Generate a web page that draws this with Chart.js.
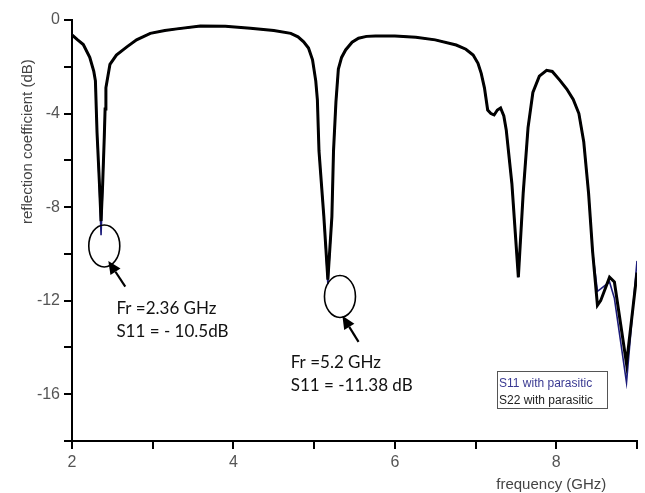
<!DOCTYPE html>
<html>
<head>
<meta charset="utf-8">
<script src="https://cdn.jsdelivr.net/npm/chart.js@4.4.1/dist/chart.umd.min.js"></script>
<style>
  html, body { margin: 0; padding: 0; background: #fff; }
  #contenedor { width: 645px; height: 493px; }
</style>
</head>
<body>
<div id="contenedor"><canvas id="grafico-reflexion"></canvas></div>
<script>
// frecuencias (GHz) y coeficiente de reflexion (dB)
const frecuencia = [
  2.00, 2.07, 2.14, 2.22, 2.27, 2.29, 2.31, 2.34, 2.36, 2.38, 2.40, 2.41, 2.42, 2.47, 2.55,
  2.68, 2.80, 2.97, 3.15, 3.30, 3.59, 3.90, 4.21, 4.50, 4.71, 4.80, 4.87, 4.93, 4.98, 5.02,
  5.04, 5.06, 5.12, 5.17, 5.22, 5.24, 5.27, 5.30, 5.34, 5.39, 5.47, 5.55, 5.65, 5.76, 6.00,
  6.26, 6.50, 6.76, 6.88, 6.97, 7.03, 7.07, 7.11, 7.15, 7.19, 7.23, 7.27, 7.31, 7.35, 7.38,
  7.45, 7.53, 7.59, 7.65, 7.71, 7.79, 7.88, 7.95, 8.04, 8.13, 8.21, 8.28, 8.34, 8.40, 8.45,
  8.51, 8.55, 8.66, 8.72, 8.87, 9.00
];
const s22 = [
  -0.64, -0.85, -1.05, -1.6, -2.2, -2.6, -4.8, -7.0, -8.6, -7.0, -5.0, -3.8, -2.9, -1.9, -1.5,
  -1.15, -0.85, -0.57, -0.45, -0.38, -0.26, -0.27, -0.35, -0.45, -0.57, -0.72, -0.93, -1.2, -1.7, -2.6,
  -3.4, -5.6, -8.4, -11.1, -8.4, -5.6, -3.5, -2.1, -1.6, -1.28, -0.95, -0.78, -0.70, -0.68, -0.68,
  -0.74, -0.85, -1.07, -1.25, -1.5, -1.85, -2.28, -2.9, -3.85, -4.0, -4.06, -3.85, -3.76, -4.1, -4.7,
  -7.0, -11.0, -7.4, -4.6, -3.1, -2.4, -2.15, -2.2, -2.56, -2.95, -3.4, -4.0, -5.2, -7.4, -9.9,
  -12.2, -12.0, -11.0, -11.2, -14.7, -10.8
];
const s11 = [
  -0.64, -0.85, -1.05, -1.6, -2.2, -2.6, -4.8, -7.2, -9.2, -7.2, -5.0, -3.8, -2.9, -1.9, -1.5,
  -1.15, -0.85, -0.57, -0.45, -0.38, -0.26, -0.27, -0.35, -0.45, -0.57, -0.72, -0.93, -1.2, -1.7, -2.6,
  -3.4, -5.6, -8.4, -11.3, -8.4, -5.6, -3.5, -2.1, -1.6, -1.28, -0.95, -0.78, -0.70, -0.68, -0.68,
  -0.74, -0.85, -1.07, -1.25, -1.5, -1.85, -2.28, -2.9, -3.85, -4.0, -4.06, -3.85, -3.76, -4.1, -4.7,
  -7.0, -11.0, -7.4, -4.6, -3.1, -2.4, -2.15, -2.2, -2.56, -2.95, -3.4, -4.0, -5.2, -7.4, -9.9,
  -11.6, -11.5, -11.2, -11.9, -15.5, -10.3
];
const nombresSeries = ["S11 with parasitic", "S22 with parasitic"];
const tituloX = "frequency (GHz)";
const tituloY = "reflection coefficient (dB)";

// anotaciones de las resonancias (en unidades de datos)
const resonancias = [
  { f: 2.40, db: -9.66, flechaDe: [2.66, -11.4], flechaA: [2.45, -10.3], textoF: 2.55, textoDb: -12.35,
    lineas: ["Fr =2.36 GHz", "S11 = - 10.5dB"] },
  { f: 5.32, db: -11.82, flechaDe: [5.55, -13.76], flechaA: [5.35, -12.65], textoF: 4.71, textoDb: -14.66,
    lineas: ["Fr =5.2 GHz", "S11 = -11.38 dB"] }
];

const aPuntos = (ys) => frecuencia.map((f, i) => ({ x: f, y: ys[i] }));

// Plugin: elipses, flechas, textos, leyenda y titulos de ejes
const extras = {
  id: "extras",
  afterDatasetsDraw(chart) {
    const { ctx, chartArea, scales } = chart;
    const sx = scales.x, sy = scales.y;
    ctx.save();

    resonancias.forEach((r) => {
      // elipse
      ctx.beginPath();
      ctx.strokeStyle = "#000";
      ctx.lineWidth = 1.6;
      ctx.ellipse(sx.getPixelForValue(r.f), sy.getPixelForValue(r.db), 15.5, 21, 0, 0, Math.PI * 2);
      ctx.stroke();

      // flecha
      const x0 = sx.getPixelForValue(r.flechaDe[0]), y0 = sy.getPixelForValue(r.flechaDe[1]);
      const x1 = sx.getPixelForValue(r.flechaA[0]), y1 = sy.getPixelForValue(r.flechaA[1]);
      const ang = Math.atan2(y1 - y0, x1 - x0);
      const largo = 13, ancho = 6;
      const bx = x1 - largo * Math.cos(ang), by = y1 - largo * Math.sin(ang);
      ctx.beginPath();
      ctx.lineWidth = 2.2;
      ctx.moveTo(x0, y0);
      ctx.lineTo(bx, by);
      ctx.stroke();
      ctx.beginPath();
      ctx.fillStyle = "#000";
      ctx.moveTo(x1, y1);
      ctx.lineTo(bx + ancho * Math.sin(ang), by - ancho * Math.cos(ang));
      ctx.lineTo(bx - ancho * Math.sin(ang), by + ancho * Math.cos(ang));
      ctx.closePath();
      ctx.fill();

      // texto
      ctx.font = "17px Lato, 'Open Sans', sans-serif";
      ctx.fillStyle = "#111";
      ctx.textAlign = "left";
      ctx.textBaseline = "middle";
      const tx = sx.getPixelForValue(r.textoF), ty = sy.getPixelForValue(r.textoDb);
      r.lineas.forEach((l, i) => ctx.fillText(l, tx, ty + i * 22.5));
    });

    // leyenda (solo texto coloreado dentro de un recuadro)
    const lx = chartArea.right - 140, ly = chartArea.bottom - 70;
    ctx.lineWidth = 1;
    ctx.strokeStyle = "#555";
    ctx.strokeRect(lx + 0.5, ly + 0.5, 110, 37);
    ctx.font = "12px 'Liberation Sans', Arial, sans-serif";
    ctx.textAlign = "left";
    ctx.textBaseline = "middle";
    const coloresLeyenda = ["#3a3a92", "#222"];
    nombresSeries.forEach((n, i) => {
      ctx.fillStyle = coloresLeyenda[i];
      ctx.fillText(n, lx + 2, ly + 13 + i * 17);
    });

    // titulos de ejes
    ctx.fillStyle = "#444";
    ctx.font = "15px 'Liberation Sans', Arial, sans-serif";
    ctx.textAlign = "center";
    ctx.fillText(tituloX, sx.getPixelForValue(8) - 5, chart.height - 8);
    ctx.save();
    ctx.translate(28, sy.getPixelForValue(-5.2));
    ctx.rotate(-Math.PI / 2);
    ctx.fillText(tituloY, 0, 0);
    ctx.restore();

    ctx.restore();
  }
};

const ctx = document.getElementById("grafico-reflexion").getContext("2d");
new Chart(ctx, {
  type: "line",
  data: {
    datasets: [
      {
        label: nombresSeries[1],
        data: aPuntos(s22),
        borderColor: "#000",
        borderWidth: 3,
        pointRadius: 0,
        tension: 0,
        order: 0
      },
      {
        label: nombresSeries[0],
        data: aPuntos(s11),
        borderColor: "#1c1c7a",
        borderWidth: 1.6,
        pointRadius: 0,
        tension: 0,
        order: 1
      }
    ]
  },
  options: {
    responsive: true,
    maintainAspectRatio: false,
    animation: false,
    layout: { padding: { top: 20, right: 8, left: 0, bottom: 0 } },
    plugins: {
      legend: { display: false },
      tooltip: { enabled: false }
    },
    scales: {
      x: {
        type: "linear",
        min: 2,
        max: 9,
        afterFit: (s) => { s.height = 52; },
        border: { color: "#000", width: 2 },
        grid: { drawOnChartArea: false, tickLength: 8, color: "#000", lineWidth: 2 },
        ticks: {
          stepSize: 1,
          padding: 4,
          color: "#555",
          font: { size: 16, family: "'Liberation Sans', Arial, sans-serif" },
          callback: (v) => (v % 2 === 0 ? v : "")
        }
      },
      y: {
        min: -18,
        max: 0,
        afterFit: (s) => { s.width = 72; },
        border: { color: "#000", width: 2 },
        grid: { drawOnChartArea: false, tickLength: 8, color: "#000", lineWidth: 2 },
        ticks: {
          stepSize: 2,
          padding: 4,
          color: "#555",
          font: { size: 16, family: "'Liberation Sans', Arial, sans-serif" },
          callback: (v) => (v % 4 === 0 && v > -18 ? v : "")
        }
      }
    }
  },
  plugins: [extras]
});
</script>
</body>
</html>
